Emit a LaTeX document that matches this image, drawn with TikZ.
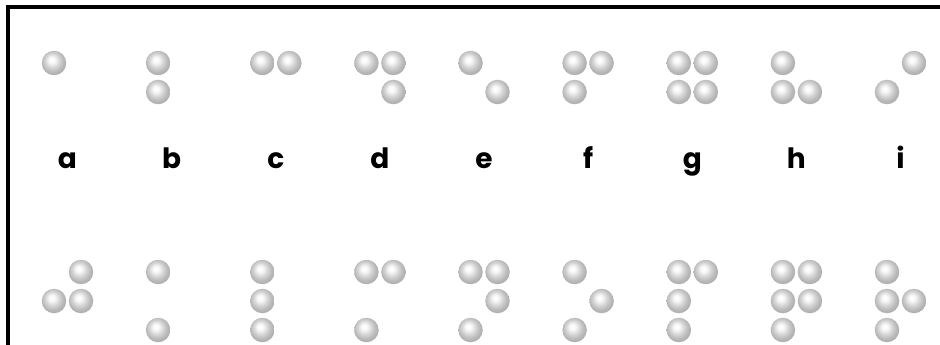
\documentclass[tikz,border=0pt]{standalone}
\usepackage{fontspec}
\newfontfamily\labfont{Poppins}
\pgfdeclareradialshading{lightball}{\pgfpoint{-5bp}{7bp}}{%
  color(0bp)=(white); color(6bp)=(white!95!gray); color(14bp)=(gray!32);
  color(22bp)=(gray!55); color(30bp)=(gray!68); color(50bp)=(gray!68)}
\tikzset{
  brdot/.style={circle, inner sep=0pt, minimum size=24.5pt, shading=lightball, shade},
  lab/.style={anchor=base, inner sep=0pt, font=\labfont\bfseries\fontsize{28}{30}\selectfont},
  frameline/.style={line width=4pt, black}
}
\newcommand\brcell[4]{%
  \foreach \d in {#4}{%
    \pgfmathtruncatemacro\cc{\d>3}%
    \pgfmathtruncatemacro\rr{mod(\d-1,3)}%
    \node[brdot] (#1-\d) at ({#2+27*\cc},{#3+29*\rr}) {};
  }}
\begin{document}
\begin{tikzpicture}[x=1pt,y=-1pt]
\useasboundingbox (0,0) rectangle (940,345);
\fill[white] (0,0) rectangle (940,345);
\coordinate (tl) at (7.5,7);
\coordinate (tr) at (942,7);
\coordinate (bl) at (7.5,347);
\draw[frameline] (bl) -- (tl) -- (tr);
% top row a-i
\brcell{a}{54}{63}{1}
\brcell{b}{158.1}{63}{1,2}
\brcell{c}{262.3}{63}{1,4}
\brcell{d}{366.4}{63}{1,4,5}
\brcell{e}{470.5}{63}{1,5}
\brcell{f}{574.6}{63}{1,4,2}
\brcell{g}{678.8}{63}{1,4,2,5}
\brcell{h}{782.9}{63}{1,2,5}
\brcell{i}{887}{63}{4,2}
% letters
\foreach \l [count=\k from 0] in {a,b,c,d,e,f,g,h,i}{
  \node[lab] (lab-\l) at ({67.5+104.125*\k},168) {\l};
}
% bottom row j-r
\brcell{j}{54}{272}{4,2,5}
\brcell{k}{158.1}{272}{1,3}
\brcell{l}{262.3}{272}{1,2,3}
\brcell{m}{366.4}{272}{1,4,3}
\brcell{n}{470.5}{272}{1,4,5,3}
\brcell{o}{574.6}{272}{1,5,3}
\brcell{p}{678.8}{272}{1,4,2,3}
\brcell{q}{782.9}{272}{1,4,2,5,3}
\brcell{r}{887}{272}{1,2,5,3}
\end{tikzpicture}
\end{document}
